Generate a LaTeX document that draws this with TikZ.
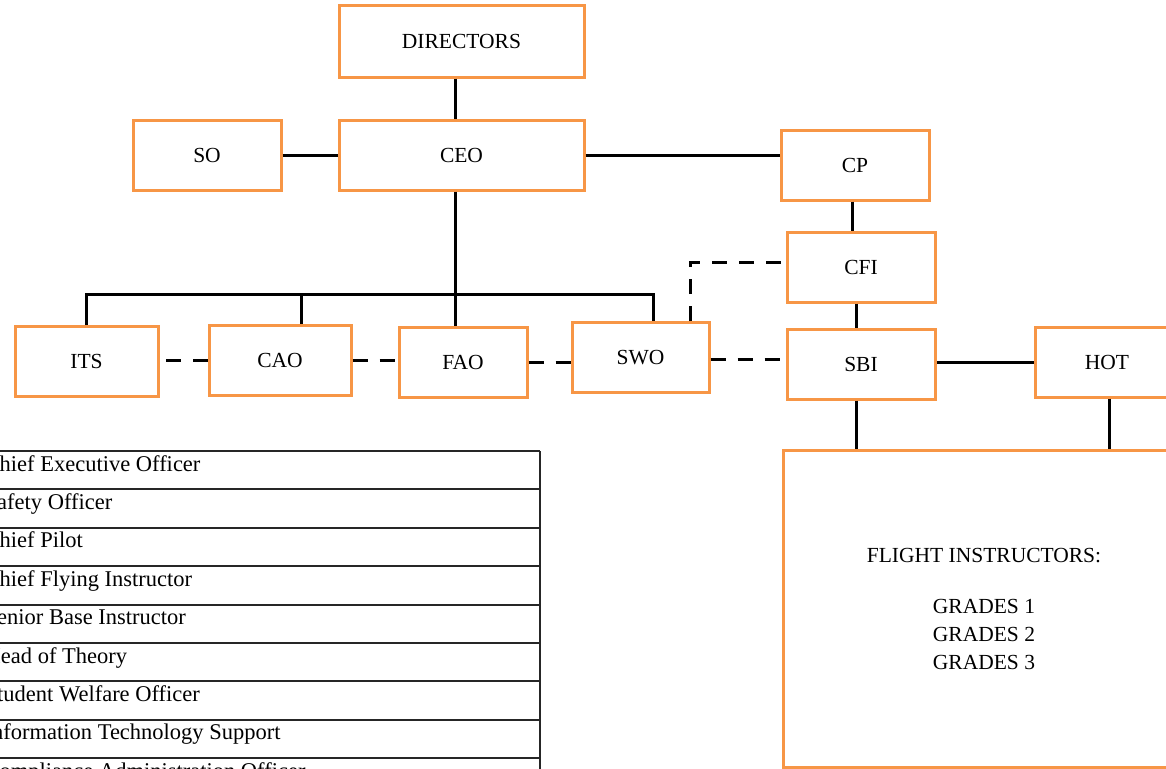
\documentclass[tikz,border=0pt]{standalone}
\usepackage{fontspec}
\setmainfont{Liberation Serif}
\usepackage{xcolor}
\usetikzlibrary{positioning, calc}
\definecolor{boxorange}{RGB}{247,150,70}
\tikzset{
  orgbox/.style={draw=boxorange, line width=3pt, minimum height=70pt, inner sep=0pt,
    align=center, font=\fontsize{21.5}{28}\selectfont},
  solidlink/.style={black, line width=3pt},
  dashlink/.style={black, line width=3pt, dash pattern=on 15pt off 12pt},
  tableline/.style={black!85, line width=2pt},
  rowtext/.style={anchor=base west, inner sep=0pt, font=\fontsize{22.5}{26}\selectfont},
}

\begin{document}
\begin{tikzpicture}[x=1pt, y=-1pt]
        \useasboundingbox (0,0) rectangle (1166,768);
        \node[orgbox, minimum width=245pt, minimum height=71pt] (DIRECTORS) at (461.5,41.5) {DIRECTORS};
        \node[orgbox, minimum width=245pt] (CEO) at (461.5,155)   {CEO};
        \node[orgbox, minimum width=148pt] (SO)  at (207,155)     {SO};
        \node[orgbox, minimum width=148pt] (CP)  at (855,165)     {CP};
        \node[orgbox, minimum width=148pt] (CFI) at (861,267)     {CFI};
        \node[orgbox, minimum width=148pt] (SBI) at (861,364)     {SBI};
        \node[orgbox, minimum width=144pt] (HOT) at (1107,362)    {HOT};
        \node[orgbox, minimum width=143pt] (ITS) at (86.5,361.5)  {ITS};
        \node[orgbox, minimum width=142pt] (CAO) at (280,360.5)   {CAO};
        \node[orgbox, minimum width=128pt] (FAO) at (463,362)     {FAO};
        \node[orgbox, minimum width=137pt] (SWO) at (640.5,357.5) {SWO};
        \node[orgbox, minimum width=402pt, minimum height=317pt] (FI) at (984,608.5)
            {FLIGHT INSTRUCTORS:\\[23pt] GRADES 1\\ GRADES 2\\ GRADES 3};

        \coordinate (bus) at (455,294);
        \draw[solidlink] (DIRECTORS.south -| bus) -- (CEO.north -| bus);
        \draw[solidlink] (SO) -- (CEO);
        \draw[solidlink] (CEO.east) -- (CEO.east -| CP.west);
        \draw[solidlink] (CEO.south -| bus) -- (bus);
        \draw[solidlink] (ITS.north) |- (bus) -| ([xshift=12.5pt]SWO.north);
        \draw[solidlink] ([xshift=21pt]CAO.north) -- ([xshift=21pt]CAO.north |- bus);
        \draw[solidlink] (FAO.north -| bus) -- (bus);
        \draw[solidlink] ([xshift=-3pt]CP.south) -- ([xshift=-3pt]CP.south |- CFI.north);
        \draw[solidlink] ([xshift=-5pt]CFI.south) -- ([xshift=-5pt]CFI.south |- SBI.north);
        \draw[solidlink] (HOT.west) -- (HOT.west -| SBI.east);
        \draw[solidlink] ([xshift=-5pt]SBI.south) -- ([xshift=-5pt]SBI.south |- FI.north);
        \draw[solidlink] ([xshift=2pt]HOT.south) -- ([xshift=2pt]HOT.south |- FI.north);

        \draw[dashlink] (CAO.west) -- (CAO.west -| ITS.east);
        \draw[dashlink] (CAO.east) -- (CAO.east -| FAO.west);
        \draw[dashlink] (FAO.east) -- (FAO.east -| SWO.west);
        \draw[dashlink] ([yshift=-2pt]SWO.east) -- ([yshift=-2pt]SWO.east -| SBI.west);
        \draw[dashlink] ([xshift=49.5pt]SWO.north) |- ([yshift=5pt]CFI.west);

        \foreach \i in {0,...,8} {
            \draw[tableline] (-30,{451+38.4*\i}) -- (540,{451+38.4*\i});
        }
        \draw[tableline] (540,451) -- (540,800);
        \foreach \t [count=\i from 0] in {Chief Executive Officer, Safety Officer, Chief Pilot,
            Chief Flying Instructor, Senior Base Instructor, Head of Theory,
            Student Welfare Officer, Information Technology Support, Compliance Administration Officer} {
            \node[rowtext] (role\i) at (-15.5,{471+38.4*\i}) {\t};
        }
    \end{tikzpicture}
\end{document}
